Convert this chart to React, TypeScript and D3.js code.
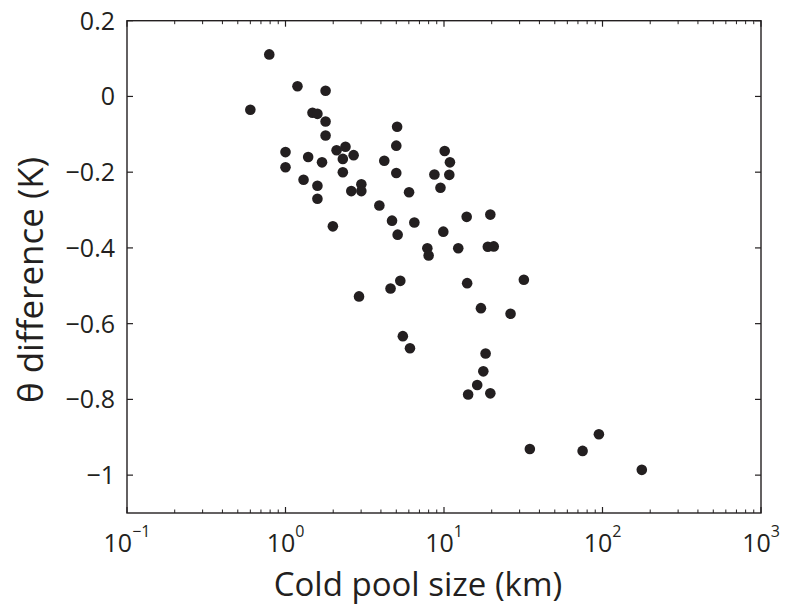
import React from "react";
import * as d3 from "d3";

// cold pool size (km) and theta difference (K)
const poolSize = [
  0.6, 0.79, 1.19, 1.79, 1.48, 1.59, 1.79, 1.79, 1.0, 1.0, 1.39, 1.7, 2.1, 2.39,
  2.3, 2.69, 2.3, 1.3, 1.59, 1.59, 2.6, 3.01, 3.01, 3.91, 4.7, 1.99, 5.06, 5.0,
  4.2, 5.0, 6.02, 10.1, 10.9, 8.7, 10.8, 9.5, 6.5, 5.1, 9.9, 13.9, 19.6, 7.85,
  8.0, 12.3, 18.9, 20.6, 5.3, 4.6, 2.91, 14.0, 31.9, 17.1, 26.3, 5.5, 6.1, 18.3,
  17.7, 16.2, 14.2, 19.6, 34.8, 74.9, 94.9, 177,
];
const thetaDiff = [
  -0.035, 0.111, 0.027, 0.015, -0.043, -0.046, -0.066, -0.103, -0.147, -0.187,
  -0.16, -0.174, -0.142, -0.133, -0.165, -0.155, -0.2, -0.22, -0.236, -0.27,
  -0.25, -0.232, -0.25, -0.288, -0.328, -0.343, -0.08, -0.13, -0.17, -0.202,
  -0.253, -0.144, -0.174, -0.206, -0.207, -0.241, -0.333, -0.365, -0.357,
  -0.318, -0.312, -0.401, -0.42, -0.401, -0.397, -0.396, -0.487, -0.507, -0.528,
  -0.493, -0.484, -0.559, -0.574, -0.633, -0.665, -0.679, -0.726, -0.762,
  -0.787, -0.784, -0.931, -0.936, -0.892, -0.986,
];
const xTickExps = [-1, 0, 1, 2, 3];
const yTicks = [0.2, 0, -0.2, -0.4, -0.6, -0.8, -1];

const W = 785;
const H = 606;
const left = 127;
const right = 761;
const top = 20.7;
const bottom = 513;
const ink = "#231f20";
const font = "'Open Sans', sans-serif";

export default function App() {
  const x = d3.scaleLog().domain([0.1, 1000]).range([left, right]);
  const y = d3.scaleLinear().domain([-1.1, 0.2]).range([bottom, top]);

  const minor: number[] = [];
  for (let e = -1; e < 3; e++) {
    for (let k = 2; k <= 9; k++) minor.push(k * Math.pow(10, e));
  }

  const fmt = (v: number) => {
    const s = d3.format("")(Math.round(v * 10) / 10);
    return s.replace("-", "\u2212");
  };

  return (
    <div style={{ position: "absolute", left: 0, top: 0 }}>
      <svg width={W} height={H} style={{ display: "block" }}>
        <rect width={W} height={H} fill="#fff" />
        {/* box */}
        <rect
          x={left}
          y={top}
          width={right - left}
          height={bottom - top}
          fill="none"
          stroke={ink}
          strokeWidth={1.4}
        />
        {/* x ticks, bottom and top, inward */}
        {xTickExps.map((e) => {
          const px = x(Math.pow(10, e));
          return (
            <g key={"xt" + e}>
              <line x1={px} x2={px} y1={bottom} y2={bottom - 6} stroke={ink} strokeWidth={1.2} />
              <line x1={px} x2={px} y1={top} y2={top + 6} stroke={ink} strokeWidth={1.2} />
              <text
                x={px}
                y={552}
                textAnchor="middle"
                fontFamily={font}
                fontSize={25}
                fill={ink}
              >
                10
                <tspan fontSize={16} dy={-15}>
                  {e < 0 ? "\u2212" + Math.abs(e) : String(e)}
                </tspan>
              </text>
            </g>
          );
        })}
        {minor.map((v, i) => {
          const px = x(v);
          return (
            <g key={"mn" + i}>
              <line x1={px} x2={px} y1={bottom} y2={bottom - 3.5} stroke={ink} strokeWidth={1} />
              <line x1={px} x2={px} y1={top} y2={top + 3.5} stroke={ink} strokeWidth={1} />
            </g>
          );
        })}
        {/* y ticks, left and right */}
        {yTicks.map((v) => {
          const py = y(v);
          return (
            <g key={"yt" + v}>
              <line x1={left} x2={left + 6} y1={py} y2={py} stroke={ink} strokeWidth={1.2} />
              <line x1={right} x2={right - 6} y1={py} y2={py} stroke={ink} strokeWidth={1.2} />
              <text
                x={115}
                y={py}
                dy="0.36em"
                textAnchor="end"
                fontFamily={font}
                fontSize={25}
                fill={ink}
              >
                {fmt(v)}
              </text>
            </g>
          );
        })}
        {/* points */}
        {poolSize.map((s, i) => (
          <circle key={"p" + i} cx={x(s)} cy={y(thetaDiff[i])} r={5.3} fill={ink} />
        ))}
        {/* axis titles */}
        <text
          x={418}
          y={596}
          textAnchor="middle"
          fontFamily={font}
          fontSize={33}
          fill={ink}
        >
          Cold pool size (km)
        </text>
        <text
          transform={`translate(43,280) rotate(-90)`}
          textAnchor="middle"
          fontFamily={font}
          fontSize={35}
          fill={ink}
        >
          θ difference (K)
        </text>
      </svg>
    </div>
  );
}
